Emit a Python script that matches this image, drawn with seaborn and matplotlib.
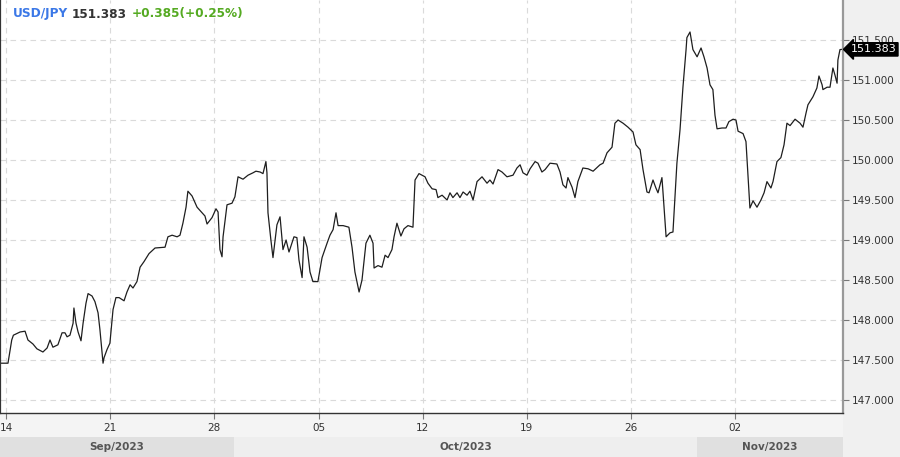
import numpy as np
import pandas as pd
import matplotlib
matplotlib.use("Agg")
import matplotlib.pyplot as plt
import matplotlib.transforms as mtransforms
from matplotlib.patches import Rectangle
import seaborn as sns

# ---------------- data (trading days since Sep 14, price) ----------------
time_days = [
    -0.10, 0.24, 0.42, 0.50, 0.82, 1.06, 1.20, 1.44, 1.63, 1.92, 2.12, 2.26, 2.40, 2.64,
    2.84, 2.98, 3.08, 3.22, 3.37, 3.41, 3.51, 3.61, 3.75, 3.85, 3.99, 4.09, 4.28, 4.42,
    4.57, 4.66, 4.81, 4.86, 5.00, 5.14, 5.29, 5.43, 5.58, 5.82, 5.96, 6.11, 6.25, 6.44,
    6.59, 6.78, 7.02, 7.31, 7.79, 7.93, 8.13, 8.37, 8.51, 8.65, 8.80, 8.89, 9.09, 9.33,
    9.57, 9.71, 9.81, 10.05, 10.24, 10.34, 10.43, 10.53, 10.58, 10.77, 11.01, 11.15, 11.30,
    11.54, 11.78, 12.02, 12.16, 12.36, 12.50, 12.64, 12.69, 12.74, 12.88, 12.98, 13.17,
    13.32, 13.46, 13.61, 13.75, 13.99, 14.13, 14.23, 14.38, 14.47, 14.62, 14.76, 14.90,
    15.14, 15.34, 15.58, 15.72, 15.87, 16.01, 16.11, 16.35, 16.63, 16.78, 16.92, 17.12,
    17.26, 17.45, 17.64, 17.79, 17.84, 18.03, 18.22, 18.37, 18.51, 18.70, 18.80, 18.94,
    19.13, 19.28, 19.47, 19.71, 19.81, 20.00, 20.29, 20.43, 20.63, 20.82, 20.91, 21.11,
    21.35, 21.49, 21.63, 21.83, 21.97, 22.12, 22.31, 22.45, 22.60, 22.79, 23.03, 23.27,
    23.41, 23.56, 23.80, 23.99, 24.23, 24.52, 24.71, 24.86, 25.00, 25.19, 25.34, 25.58,
    25.72, 25.91, 26.06, 26.30, 26.63, 26.78, 26.92, 27.07, 27.16, 27.36, 27.50, 27.64,
    27.88, 28.13, 28.37, 28.70, 28.85, 29.04, 29.28, 29.42, 29.57, 29.81, 30.05, 30.29,
    30.43, 30.63, 30.77, 30.96, 31.06, 31.25, 31.39, 31.49, 31.68, 31.73, 31.88, 32.07,
    32.21, 32.40, 32.55, 32.69, 32.84, 32.88, 33.03, 33.17, 33.37, 33.56, 33.70, 33.85,
    33.99, 34.13, 34.23, 34.33, 34.57, 34.76, 34.90, 35.10, 35.24, 35.34, 35.58, 35.72,
    35.82, 35.91, 36.06, 36.25, 36.44, 36.59, 36.73, 36.92, 37.02, 37.21, 37.40, 37.55,
    37.69, 37.84, 38.08, 38.32, 38.46, 38.61, 38.70, 38.94, 39.13, 39.23, 39.38, 39.42,
    39.62, 39.76, 39.90, 40.00, 40.10, 40.14, 40.24, 40.34,
]
price = [
    147.46, 147.46, 147.75, 147.81, 147.85, 147.86, 147.75, 147.70, 147.64, 147.60, 147.65, 147.75, 147.66, 147.69,
    147.84, 147.84, 147.79, 147.81, 147.96, 148.15, 147.96, 147.85, 147.74, 147.96, 148.21, 148.33, 148.30, 148.23,
    148.09, 147.88, 147.46, 147.53, 147.63, 147.71, 148.13, 148.28, 148.28, 148.24, 148.35, 148.44, 148.40, 148.48,
    148.66, 148.73, 148.83, 148.90, 148.91, 149.04, 149.06, 149.04, 149.06, 149.21, 149.41, 149.61, 149.55, 149.41,
    149.34, 149.30, 149.20, 149.28, 149.39, 149.35, 148.88, 148.79, 149.04, 149.44, 149.46, 149.54, 149.79,
    149.76, 149.81, 149.84, 149.86, 149.85, 149.83, 149.98, 149.84, 149.34, 149.00, 148.78, 149.19,
    149.29, 148.88, 149.00, 148.85, 149.04, 149.03, 148.75, 148.53, 149.04, 148.91, 148.60, 148.48,
    148.48, 148.78, 148.96, 149.06, 149.13, 149.34, 149.18, 149.18, 149.16, 148.91, 148.60, 148.35,
    148.50, 148.96, 149.06, 148.96, 148.65, 148.68, 148.66, 148.81, 148.78, 148.88, 149.04, 149.21,
    149.05, 149.14, 149.18, 149.16, 149.75, 149.83, 149.79, 149.71, 149.64, 149.63, 149.53, 149.56,
    149.50, 149.59, 149.53, 149.59, 149.53, 149.60, 149.56, 149.61, 149.50, 149.73, 149.79, 149.71,
    149.75, 149.70, 149.88, 149.85, 149.79, 149.81, 149.90, 149.94, 149.84, 149.81, 149.89, 149.98,
    149.96, 149.85, 149.88, 149.96, 149.95, 149.85, 149.69, 149.65, 149.78, 149.66, 149.53, 149.73,
    149.90, 149.89, 149.86, 149.94, 149.96, 150.09, 150.16, 150.46, 150.50, 150.46, 150.41, 150.35,
    150.19, 150.13, 149.88, 149.60, 149.59, 149.75, 149.65, 149.59, 149.78, 149.60, 149.04, 149.09,
    149.10, 149.96, 150.38, 150.91, 151.38, 151.53, 151.60, 151.38, 151.29, 151.40, 151.29, 151.15,
    150.94, 150.88, 150.56, 150.39, 150.40, 150.40, 150.48, 150.51, 150.50, 150.36, 150.33, 150.23,
    149.79, 149.40, 149.49, 149.41, 149.50, 149.59, 149.73, 149.65, 149.73, 149.98, 150.03, 150.19,
    150.46, 150.43, 150.51, 150.46, 150.41, 150.59, 150.69, 150.79, 150.90, 151.05, 150.94, 150.88,
    150.91, 150.91, 151.15, 151.06, 150.96, 151.25, 151.38, 151.383,
]
x_tick_pos = [0.15, 5.15, 10.16, 15.17, 20.18, 25.18, 30.19, 35.20]
x_tick_labels = ["14", "21", "28", "05", "12", "19", "26", "02"]
y_ticks = [147.0, 147.5, 148.0, 148.5, 149.0, 149.5, 150.0, 150.5, 151.0, 151.5]
month_labels = ["Sep/2023", "Oct/2023", "Nov/2023"]
month_edges = [-0.144, 11.11, 33.37, 40.385]
symbol = "USD/JPY"
last_price = 151.383
change = 0.385
change_pct = 0.25

# ---------------- styling ----------------
sns.set_theme(style="white")
plt.rcParams['font.family'] = ['DejaVu Sans']

W, H = 900, 457
fig = plt.figure(figsize=(W / 100, H / 100), dpi=100, facecolor='white')

# gray surrounding panels (behind the axes)
fig.patches.append(Rectangle((843 / W, 0), 1 - 843 / W, 1, transform=fig.transFigure,
                             fc='#f0f0f0', ec='none', zorder=-5))
fig.patches.append(Rectangle((0, 0), 843 / W, 44 / H, transform=fig.transFigure,
                             fc='#f4f4f4', ec='none', zorder=-5))

ax = fig.add_axes([0, 44 / H, 843 / W, 413 / H])
ax.set_facecolor('white')
df = pd.DataFrame({'t': time_days, 'price': price})
sns.lineplot(data=df, x='t', y='price', ax=ax, color='#1e1e1e', lw=0.9, sort=False)

ax.set_xlim(month_edges[0], month_edges[-1])
ax.set_ylim(146.8375, 152.0)
ax.set_xlabel('')
ax.set_ylabel('')

ax.set_xticks(x_tick_pos)
ax.set_xticklabels(x_tick_labels)
ax.set_yticks(y_ticks)
ax.set_yticklabels([f"{v:.3f}" for v in y_ticks])
ax.yaxis.tick_right()
ax.tick_params(axis='y', direction='out', length=4, width=0.8, color='#777777',
               labelsize=7.5, labelcolor='#333333', pad=2, right=True)
ax.tick_params(axis='x', direction='out', length=4, width=0.8, color='#777777',
               labelsize=7.5, labelcolor='#333333', pad=3, bottom=True)

ax.grid(True, color='#dadada', ls=(0, (5, 4)), lw=0.8)
ax.spines['top'].set_visible(False)
ax.spines['left'].set_color('#333333')
ax.spines['left'].set_linewidth(1.6)
ax.spines['bottom'].set_color('#333333')
ax.spines['bottom'].set_linewidth(1.0)
ax.spines['right'].set_color('#999999')
ax.spines['right'].set_linewidth(1.6)

# last price marker
trans = mtransforms.blended_transform_factory(ax.transAxes, ax.transData)
ax.text(1.009, last_price, f"{last_price:.3f}", transform=trans, color='white',
        fontsize=8, va='center', ha='left', clip_on=False, zorder=10,
        bbox=dict(boxstyle='larrow,pad=0.15', fc='black', ec='black'))

# header
ty = 1 - 14 / H
fig.text(13 / W, ty, symbol, color='#3b78e7', fontsize=8.7, fontweight='bold', va='center')
fig.text(72 / W, ty, f"{last_price:.3f}", color='#333333', fontsize=8.7, fontweight='bold', va='center')
fig.text(132 / W, ty, f"+{change:.3f}(+{change_pct:.2f}%)", color='#55aa22', fontsize=8.7,
         fontweight='bold', va='center')

# month band
bax = fig.add_axes([0, 0, 843 / W, 20 / H])
bax.set_xlim(month_edges[0], month_edges[-1])
bax.set_ylim(0, 1)
band_colors = ['#e0e0e0', '#eeeeee', '#e0e0e0']
for i, lab in enumerate(month_labels):
    bax.axvspan(month_edges[i], month_edges[i + 1], color=band_colors[i], lw=0)
    bax.text((month_edges[i] + month_edges[i + 1]) / 2, 0.5, lab, ha='center', va='center',
             fontsize=7.5, fontweight='bold', color='#555555')
bax.axis('off')

fig.savefig('out.png', dpi=100, facecolor=fig.get_facecolor())
